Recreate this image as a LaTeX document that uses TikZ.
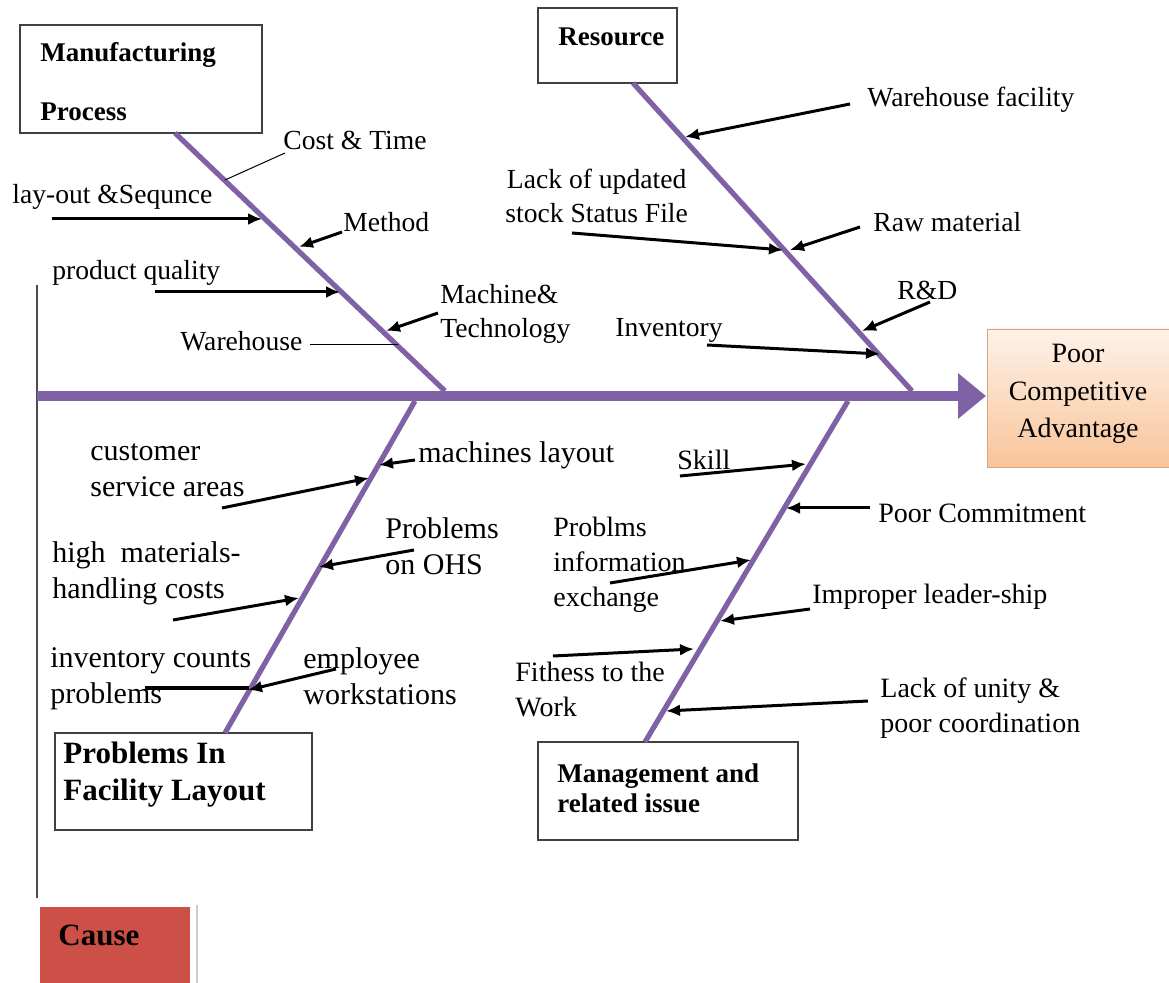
\documentclass[tikz,border=0pt]{standalone}
\usepackage{fontspec}
\setmainfont{Liberation Serif}
\usetikzlibrary{arrows.meta}
\definecolor{fbpurple}{RGB}{127,98,166}
\definecolor{causered}{RGB}{204,80,72}
\definecolor{peachtop}{RGB}{254,242,232}
\definecolor{peachbot}{RGB}{248,196,154}
\tikzset{
 lbl/.style={font=\fontsize{13.8}{17}\selectfont, inner sep=0pt, anchor=west, align=left},
 lblf/.style={font=\fontsize{15}{18}\selectfont, inner sep=0pt, anchor=west, align=left},
 lblm/.style={font=\fontsize{14}{17.5}\selectfont, inner sep=0pt, anchor=west, align=left},
 btxt/.style={font=\bfseries\fontsize{13.5}{15}\selectfont, inner sep=0pt, anchor=west, align=left},
 btxtl/.style={font=\bfseries\fontsize{15.5}{18.5}\selectfont, inner sep=0pt, anchor=west, align=left},
 frame/.style={draw=black!75, line width=0.8pt, inner sep=0pt},
 bone/.style={draw=fbpurple, line width=2.6pt},
 spine/.style={draw=fbpurple, line width=5pt, -{Triangle[length=14pt,width=22pt]}},
 carrow/.style={draw=black, line width=1.5pt, -{Latex[length=7pt,width=6pt]}},
 thickbar/.style={draw=black, line width=2.2pt},
 leader/.style={draw=black, line width=0.5pt},
}
\begin{document}
\begin{tikzpicture}[x=0.5pt,y=-0.5pt]
\useasboundingbox (0,0) rectangle (1169,983);
% ---------- boxes ----------
\node[frame, minimum width=121pt, minimum height=54pt] (mp) at (141,79) {};
\node[btxt] (mpt1) at (40,55) {Manufacturing};
\node[btxt] (mpt2) at (40,112) {Process};
\node[frame, minimum width=69.5pt, minimum height=37.5pt] (res) at (607.5,45.5) {};
\node[btxt] (rest) at (558,37) {Resource};
\node[inner sep=0pt, minimum width=91pt, minimum height=69pt, top color=peachtop, bottom color=peachbot, draw=peachbot!85!black, line width=0.3pt] (pca) at (1078.5,398) {};
\node[lblm, anchor=center, align=center, font=\fontsize{14}{18.7}\selectfont] (pcat) at (1078,394) {Poor\\Competitive\\Advantage};
\node[frame, minimum width=128.5pt, minimum height=48.5pt] (fl) at (183.5,781.5) {};
\node[btxtl] (flt) at (63,775) {Problems In\\Facility Layout};
\node[frame, minimum width=130pt, minimum height=49pt] (mg) at (668,791) {};
\node[btxt] (mgt) at (557,788) {Management and\\related issue};
\node[fill=causered, inner sep=0pt, minimum width=75pt, minimum height=38pt] (cause) at (115,945) {};
\node[btxtl] (causet) at (58,935) {Cause};
% ---------- side lines ----------
\coordinate (vl1) at (37,285); \coordinate (vl2) at (37,898);
\draw[draw=black!70, line width=0.8pt] (vl1) -- (vl2);
\coordinate (gl1) at (197,905); \coordinate (gl2) at (197,983);
\draw[draw=black!20, line width=0.8pt] (gl1) -- (gl2);
% ---------- spine and bones ----------
\coordinate (sp0) at (37,396); \coordinate (sp1) at (986,396);
\draw[spine] (sp0) -- (sp1);
\coordinate (b1a) at (175,133); \coordinate (b1b) at (445,391);
\draw[bone] (b1a) -- (b1b);
\coordinate (b2a) at (633,83); \coordinate (b2b) at (912,391);
\draw[bone] (b2a) -- (b2b);
\coordinate (b3a) at (415,401); \coordinate (b3b) at (225,733);
\draw[bone] (b3a) -- (b3b);
\coordinate (b4a) at (848,401); \coordinate (b4b) at (645,742);
\draw[bone] (b4a) -- (b4b);
% ---------- Manufacturing Process ----------
\node[lbl] (ct) at (283,140) {Cost \& Time};
\coordinate (ct1) at (285,153); \coordinate (ct2) at (225,180);
\draw[leader] (ct1) -- (ct2);
\node[lbl] (ls) at (12,197) {lay-out \&Sequnce};
\coordinate (ls1) at (52,219); \coordinate (ls2) at (262,219);
\draw[carrow] (ls1) -- (ls2);
\node[lbl] (me) at (343,222) {Method};
\coordinate (me1) at (342,232); \coordinate (me2) at (299,247);
\draw[carrow] (me1) -- (me2);
\node[lbl] (pq) at (52,273) {product quality};
\coordinate (pq1) at (155,292); \coordinate (pq2) at (340,292);
\draw[carrow] (pq1) -- (pq2);
\node[lbl] (mt) at (440,314) {Machine\&\\Technology};
\coordinate (mt1) at (438,313); \coordinate (mt2) at (386,331);
\draw[carrow] (mt1) -- (mt2);
\node[lbl] (wh) at (180,341) {Warehouse};
\coordinate (wh1) at (310,345); \coordinate (wh2) at (398,345);
\draw[leader] (wh1) -- (wh2);
% ---------- Resource ----------
\node[lbl] (wf) at (867,100) {Warehouse facility};
\coordinate (wf1) at (850,104); \coordinate (wf2) at (685,137);
\draw[carrow] (wf1) -- (wf2);
\node[lbl, align=center] (lu) at (505,196) {Lack of updated\\stock Status File};
\coordinate (lu1) at (572,233); \coordinate (lu2) at (783,250);
\draw[carrow] (lu1) -- (lu2);
\node[lbl] (rm) at (873,222) {Raw material};
\coordinate (rm1) at (860,227); \coordinate (rm2) at (790,250);
\draw[carrow] (rm1) -- (rm2);
\node[lbl] (rd) at (897,290) {R\&D};
\coordinate (rd1) at (930,302); \coordinate (rd2) at (862,331);
\draw[carrow] (rd1) -- (rd2);
\node[lbl] (inv) at (615,330) {Inventory};
\coordinate (inv1) at (707,345); \coordinate (inv2) at (880,354);
\draw[carrow] (inv1) -- (inv2);
% ---------- Facility layout ----------
\node[lblf] (cs) at (90,470) {customer\\service areas};
\coordinate (cs1) at (222,508); \coordinate (cs2) at (369,478);
\draw[carrow] (cs1) -- (cs2);
\node[lblf] (ml) at (418,455) {machines layout};
\coordinate (ml1) at (415,460); \coordinate (ml2) at (379,465);
\draw[carrow] (ml1) -- (ml2);
\node[lblf] (po) at (385,546) {Problems\\on OHS};
\coordinate (po1) at (414,550); \coordinate (po2) at (319,567);
\draw[carrow] (po1) -- (po2);
\node[lblf] (hm) at (52,573) {high\ \ materials-\\handling costs};
\coordinate (hm1) at (173,620); \coordinate (hm2) at (299,598);
\draw[carrow] (hm1) -- (hm2);
\node[lblf] (ic) at (50,679) {inventory counts\\problems};
\coordinate (ic1) at (145,688); \coordinate (ic2) at (249,688);
\draw[thickbar] (ic1) -- (ic2);
\node[lblf] (ew) at (303,676) {employee\\workstations};
\coordinate (ew1) at (336,669); \coordinate (ew2) at (248,690);
\draw[carrow] (ew1) -- (ew2);
% ---------- Management ----------
\node[lblm] (sk) at (677,460) {Skill};
\coordinate (sk1) at (680,476); \coordinate (sk2) at (806,464);
\draw[carrow] (sk1) -- (sk2);
\node[lblm] (pc) at (878,513) {Poor Commitment};
\coordinate (pc1) at (870,508); \coordinate (pc2) at (786,508);
\draw[carrow] (pc1) -- (pc2);
\node[lblm] (pi) at (553,565) {Problms\\information\\exchange};
\coordinate (pi1) at (610,583); \coordinate (pi2) at (751,560);
\draw[carrow] (pi1) -- (pi2);
\node[lblm] (il) at (812,597) {Improper leader-ship};
\coordinate (il1) at (810,609); \coordinate (il2) at (720,621);
\draw[carrow] (il1) -- (il2);
\node[lblm] (fw) at (515,690) {Fithess to the\\Work};
\coordinate (fw1) at (553,656); \coordinate (fw2) at (694,649);
\draw[carrow] (fw1) -- (fw2);
\node[lblm] (lo) at (880,708) {Lack of unity \&\\poor coordination};
\coordinate (lo1) at (868,701); \coordinate (lo2) at (666,711);
\draw[carrow] (lo1) -- (lo2);
\end{tikzpicture}
\end{document}
